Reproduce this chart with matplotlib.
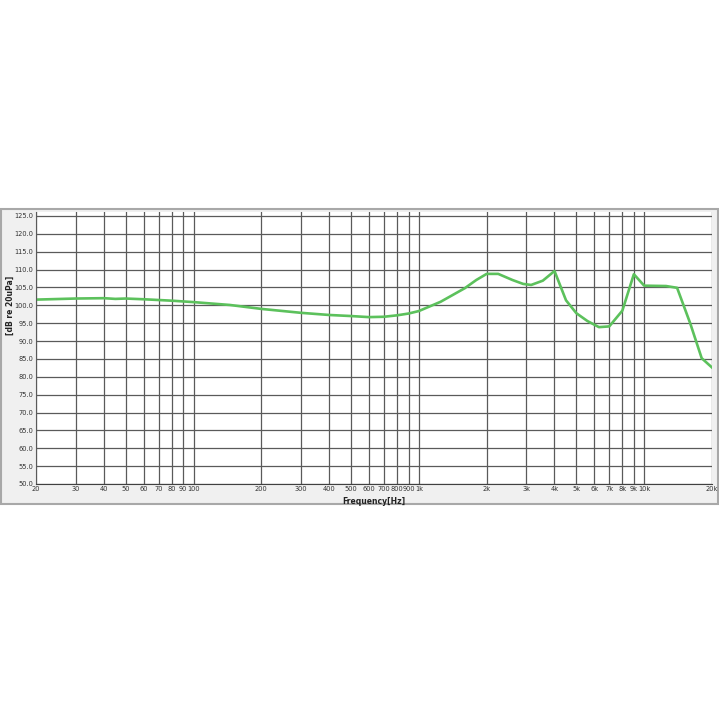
import numpy as np
import matplotlib
matplotlib.use("Agg")
import matplotlib.pyplot as plt
from matplotlib.patches import Rectangle

# frequency response
freq = [20, 30, 40, 45, 50, 60, 80, 100, 145, 200, 300, 400, 500, 600, 700, 800, 900,
        1000, 1250, 1600, 1800, 2000, 2250, 2600, 2900, 3150, 3550, 4000, 4500, 5000,
        5600, 6300, 7000, 8000, 9000, 10000, 12500, 14000, 16000, 18000, 20000]
spl = [101.6, 101.9, 102.0, 101.8, 101.9, 101.7, 101.3, 100.9, 100.1, 99.0, 97.9, 97.3,
       97.0, 96.7, 96.8, 97.2, 97.7, 98.4, 101.0, 104.8, 107.1, 108.8, 108.8, 107.1,
       106.0, 105.7, 106.9, 109.6, 101.4, 97.8, 95.6, 93.9, 94.1, 98.5, 108.7, 105.5,
       105.4, 104.9, 95.0, 85.2, 82.6]

xticks = [20, 30, 40, 50, 60, 70, 80, 90, 100, 200, 300, 400, 500, 600, 700, 800, 900,
          1000, 2000, 3000, 4000, 5000, 6000, 7000, 8000, 9000, 10000, 20000]
xlabels = ["20", "30", "40", "50", "60", "70", "80", "90", "100", "200", "300", "400",
           "500", "600", "700", "800", "900", "1k", "2k", "3k", "4k", "5k", "6k", "7k",
           "8k", "9k", "10k", "20k"]
yticks = np.arange(50, 126, 5)

W = 719
fig = plt.figure(figsize=(7.19, 7.19), dpi=100)

# grey panel behind the chart
panel = Rectangle((1 / W, 1 - 504 / W), 717 / W, 295 / W, transform=fig.transFigure,
                  facecolor="#f0f0f0", edgecolor="#a8a8a8", lw=1.5, zorder=-5)
fig.patches.append(panel)

ax = fig.add_axes([36 / W, 1 - 484 / W, 676 / W, 272.3 / W])
ax.set_facecolor("white")
ax.set_xscale("log")
ax.set_xlim(20, 20000)
ax.set_ylim(50, 126.2)

ax.set_xticks(xticks)
ax.set_xticklabels(xlabels)
ax.xaxis.set_minor_locator(matplotlib.ticker.NullLocator())
ax.set_yticks(yticks)
ax.set_yticklabels([f"{v:.1f}" for v in yticks])
ax.tick_params(length=0, labelsize=4.8, colors="#333333", pad=2)
ax.tick_params(axis="x", pad=1.5)

ax.grid(True, color="#5a5a5a", lw=0.9)
ax.set_axisbelow(True)
for s in ["top", "right"]:
    ax.spines[s].set_visible(False)
ax.spines["left"].set_color("#5a5a5a")
ax.spines["bottom"].set_color("#404040")

ax.plot(freq, spl, color="#5cc15c", lw=1.9, solid_joinstyle="round")

fig.text(374 / W, 1 - 501 / W, "Frequency[Hz]", ha="center", va="center",
         fontsize=5.5, fontweight="bold", color="#222222")
fig.text(10 / W, 1 - 305 / W, "[dB re 20uPa]", ha="center", va="center",
         rotation=90, fontsize=5.5, fontweight="bold", color="#222222")

fig.savefig("out.png", dpi=100, facecolor="white")
